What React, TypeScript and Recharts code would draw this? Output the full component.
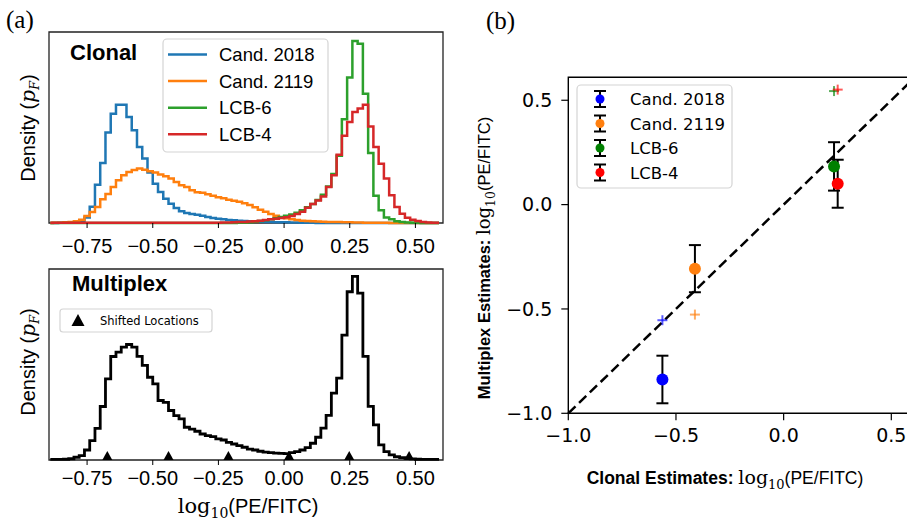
import React from 'react';
import {
  ComposedChart,
  ScatterChart,
  Line,
  Scatter,
  XAxis,
  YAxis,
  ReferenceArea,
  ReferenceLine,
  ErrorBar,
  Cell,
} from 'recharts';

// histogram bin centres (bin width 0.02)
const binCenters = [
  -0.89, -0.87, -0.85, -0.83, -0.81, -0.79, -0.77, -0.75, -0.73, -0.71,
  -0.69, -0.67, -0.65, -0.63, -0.61, -0.59, -0.57, -0.55, -0.53, -0.51,
  -0.49, -0.47, -0.45, -0.43, -0.41, -0.39, -0.37, -0.35, -0.33, -0.31,
  -0.29, -0.27, -0.25, -0.23, -0.21, -0.19, -0.17, -0.15, -0.13, -0.11,
  -0.09, -0.07, -0.05, -0.03, -0.01, 0.01, 0.03, 0.05, 0.07, 0.09,
  0.11, 0.13, 0.15, 0.17, 0.19, 0.21, 0.23, 0.25, 0.27, 0.29,
  0.31, 0.33, 0.35, 0.37, 0.39, 0.41, 0.43, 0.45, 0.47, 0.49,
  0.51, 0.53, 0.55, 0.57, 0.59,
];

const cand2018 = [
  0, 0, 0.1, 0.1, 0.3, 0.5, 1, 3, 9, 21,
  33, 49.7, 60, 65, 65, 58.3, 51, 41.8, 35.4, 27.7,
  21.6, 17, 13.4, 10.6, 8.2, 6.4, 5.5, 5, 4.5, 4,
  3.3, 2.8, 2.4, 2, 1.7, 1.5, 1.3, 1.1, 0.9, 0.8,
  0.7, 0.6, 0.5, 0.45, 0.4, 0.35, 0.3, 0.25, 0.2, 0.15,
  0.1, 0.05, 0, 0, 0, 0, 0, 0, 0, 0,
  0, 0, 0, 0, 0, 0, 0, 0, 0, 0,
  0, 0, 0, 0, 0,
];

const cand2119 = [
  0, 0.1, 0.2, 0.4, 0.6, 0.9, 1.8, 3.8, 6, 8.8,
  13, 16, 19.8, 23.5, 26.2, 28, 29.1, 29.9, 29.3, 28.4,
  27.7, 26.6, 25.7, 24.4, 22.5, 20.7, 19.8, 18, 16.9, 16.6,
  15.8, 15, 14.2, 13.6, 12.8, 12.3, 11.7, 10.8, 9.9, 8.6,
  7.3, 6.2, 4.9, 4, 3.1, 2.6, 2, 1.6, 1.3, 1.1,
  0.9, 0.8, 0.7, 0.6, 0.5, 0.5, 0.4, 0.4, 0.3, 0.3,
  0.2, 0.2, 0.2, 0.1, 0.1, 0, 0, 0, 0, 0,
  0, 0, 0, 0, 0,
];

const lcb6 = [
  0, 0, 0, 0, 0, 0, 0, 0, 0, 0,
  0, 0, 0, 0, 0, 0, 0, 0, 0, 0,
  0, 0, 0, 0, 0, 0, 0, 0, 0, 0,
  0, 0, 0, 0, 0, 0, 0.1, 0.2, 0.4, 0.7,
  1.1, 1.5, 2, 2.6, 3.3, 4, 4.7, 5.6, 7, 8.6,
  10.5, 12.6, 15.5, 20, 27, 37, 57, 80, 100, 98.5,
  71, 38.5, 15, 7, 3, 2, 1, 0.5, 0.3, 0.2,
  0.1, 0, 0, 0, 0,
];

const lcb4 = [
  0.1, 0.1, 0.1, 0.1, 0.1, 0.1, 0.1, 0.1, 0.1, 0.1,
  0.1, 0.1, 0.1, 0.1, 0.1, 0.1, 0.1, 0.1, 0.1, 0.1,
  0.1, 0.1, 0.1, 0.1, 0.1, 0.1, 0.15, 0.15, 0.15, 0.15,
  0.15, 0.15, 0.15, 0.3, 0.3, 0.4, 0.5, 0.6, 0.8, 1,
  1.3, 1.6, 2, 2.3, 2.7, 3.1, 3.8, 4.9, 6.2, 8.4,
  10.4, 12.4, 14.5, 19.8, 26.2, 37.5, 48, 55.5, 61, 63,
  65, 53, 41.8, 32.6, 24.4, 15.2, 8.8, 5.1, 2.9, 1.8,
  1.1, 0.6, 0.3, 0.2, 0.1,
];

const multiplex = [
  0.3, 0.3, 0.3, 0.4, 0.7, 1.5, 2.4, 5.5, 10.6, 17.4,
  29.4, 44.6, 56.9, 59.3, 62, 63.5, 62, 57, 52, 45.5,
  41.8, 32.7, 31.7, 27.2, 24.4, 22.6, 18, 17, 15.8, 14.3,
  13.4, 12.8, 11.6, 11, 9.7, 8.8, 7.9, 7, 6, 5.5,
  4.8, 4.3, 4.1, 3.8, 3.6, 3.5, 4, 4.6, 5.5, 6.8,
  9.2, 12.5, 17.5, 24.5, 36.8, 45, 68.7, 92.5, 101, 91.7,
  57, 29.5, 19.3, 8.3, 4.6, 2.8, 1.8, 1.3, 0.9, 0.6,
  0.4, 0.3, 0.3, 0.3, 0.3,
];

const shiftedLocations = [-0.673, -0.44, -0.212, 0.019, 0.248, 0.476];
const histTicks = [-0.75, -0.5, -0.25, 0, 0.25, 0.5];

const strains = ['Cand. 2018', 'Cand. 2119', 'LCB-6', 'LCB-4'];
const clonalEst = [-0.563, -0.412, 0.234, 0.251];
const multiplexEst = [-0.838, -0.307, 0.183, 0.1];
const multiplexErr = [0.114, 0.113, 0.116, 0.115];
const shiftedEst = [-0.554, -0.527, 0.544, 0.551];
const estTicks = [-1, -0.5, 0, 0.5];

const histColors = ['#1f77b4', '#ff7f0e', '#2ca02c', '#d62728'];
const estColors = ['#0000ff', '#ff7f0e', '#008000', '#ff0000'];

const histKeys = ['c2018', 'c2119', 'lcb6', 'lcb4'];
const histSeries = [cand2018, cand2119, lcb6, lcb4];

const clonalRows = binCenters.map((x, i) => {
  const row: Record<string, number> = { x };
  histKeys.forEach((k, j) => {
    row[k] = histSeries[j][i];
  });
  return row;
});
const multiplexRows = binCenters.map((x, i) => ({ x, m: multiplex[i] }));
const triangleRows = shiftedLocations.map((x) => ({ x, m: 0 }));

const estRows = strains.map((name, i) => ({
  name,
  x: clonalEst[i],
  y: multiplexEst[i],
  err: multiplexErr[i],
}));
const shiftedRows = strains.map((name, i) => ({ name, x: clonalEst[i], y: shiftedEst[i] }));

const SANS = 'Liberation Sans, Arial, Helvetica, sans-serif';
const DEJAVU = 'DejaVu Sans, sans-serif';
const MATH = 'DejaVu Serif, serif';
const SERIF = 'Liberation Serif, Times New Roman, serif';

const fmt = (d: number) => (v: number) => (v < 0 ? '\u2212' : '') + Math.abs(v).toFixed(d);

const HIST_X: [number, number] = [-0.895, 0.605];
const HIST_Y: [number, number] = [0, 105];
const EST_DOMAIN: [number, number] = [-1, 0.61];

const Triangle = (props: any) => {
  const { cx, cy } = props;
  return <polygon points={`${cx - 5},${cy} ${cx + 5},${cy} ${cx},${cy - 9}`} fill="#000" />;
};

const Dot = (props: any) => <circle cx={props.cx} cy={props.cy} r={6} fill={props.fill} />;

const Plus = (props: any) => {
  const { cx, cy, fill } = props;
  return (
    <g stroke={fill} strokeWidth={2} strokeOpacity={0.65}>
      <line x1={cx - 5} y1={cy} x2={cx + 5} y2={cy} />
      <line x1={cx} y1={cy - 5} x2={cx} y2={cy + 5} />
    </g>
  );
};

function ClonalPanel() {
  return (
    <ComposedChart width={460} height={260} data={clonalRows} margin={{ top: 32, right: 17, bottom: 7, left: 49 }}>
      <XAxis
        type="number"
        dataKey="x"
        domain={HIST_X}
        ticks={histTicks}
        interval={0}
        tickFormatter={fmt(2)}
        axisLine={false}
        tickSize={5}
        tickMargin={11}
        height={30}
        tickLine={{ stroke: '#000' }}
        tick={{ fill: '#000', fontSize: 20, fontFamily: SANS }}
      />
      <YAxis hide domain={HIST_Y} />
      {histKeys.map((k, j) => (
        <Line
          key={k}
          type="step"
          dataKey={k}
          name={strains[j]}
          stroke={histColors[j]}
          strokeWidth={2.5}
          dot={false}
          activeDot={false}
          isAnimationActive={false}
        />
      ))}
      <ReferenceArea x1={HIST_X[0]} x2={HIST_X[1]} y1={HIST_Y[0]} y2={HIST_Y[1]} fill="none" stroke="#222" strokeWidth={1.3} />
    </ComposedChart>
  );
}

function MultiplexPanel() {
  return (
    <ComposedChart width={460} height={260} data={multiplexRows} margin={{ top: 29, right: 17, bottom: 10, left: 49 }}>
      <XAxis
        type="number"
        dataKey="x"
        domain={HIST_X}
        ticks={histTicks}
        interval={0}
        tickFormatter={fmt(2)}
        axisLine={false}
        tickSize={5}
        tickMargin={6}
        height={30}
        tickLine={{ stroke: '#000' }}
        tick={{ fill: '#000', fontSize: 20, fontFamily: SANS }}
      />
      <YAxis hide domain={HIST_Y} />
      <Line type="step" dataKey="m" stroke="#000" strokeWidth={2.8} dot={false} activeDot={false} isAnimationActive={false} />
      <Scatter data={triangleRows} dataKey="m" shape={Triangle} isAnimationActive={false} />
      <ReferenceArea x1={HIST_X[0]} x2={HIST_X[1]} y1={HIST_Y[0]} y2={HIST_Y[1]} fill="none" stroke="#222" strokeWidth={1.3} />
    </ComposedChart>
  );
}

function EstimatePanel() {
  return (
    <ScatterChart width={470} height={526} margin={{ top: 77.3, right: 15, bottom: 82.7, left: 48.3 }}>
      <XAxis
        type="number"
        dataKey="x"
        domain={EST_DOMAIN}
        ticks={estTicks}
        interval={0}
        tickFormatter={fmt(1)}
        axisLine={false}
        tickSize={7}
        tickMargin={8}
        height={30}
        tickLine={{ stroke: '#000', strokeWidth: 1.2 }}
        tick={{ fill: '#000', fontSize: 19, fontFamily: DEJAVU }}
      />
      <YAxis
        type="number"
        dataKey="y"
        domain={EST_DOMAIN}
        ticks={estTicks}
        interval={0}
        tickFormatter={fmt(1)}
        axisLine={false}
        width={60}
        tickSize={7}
        tickMargin={9}
        tickLine={{ stroke: '#000', strokeWidth: 1.2 }}
        tick={{ fill: '#000', fontSize: 19, fontFamily: DEJAVU }}
      />
      <ReferenceArea x1={EST_DOMAIN[0]} x2={EST_DOMAIN[1]} y1={EST_DOMAIN[0]} y2={EST_DOMAIN[1]} fill="none" stroke="#000" strokeWidth={1.4} />
      <ReferenceLine
        segment={[
          { x: EST_DOMAIN[0], y: EST_DOMAIN[0] },
          { x: EST_DOMAIN[1], y: EST_DOMAIN[1] },
        ]}
        stroke="#000"
        strokeWidth={2.5}
        strokeDasharray="10 5"
      />
      <Scatter data={shiftedRows} shape={Plus} isAnimationActive={false}>
        {shiftedRows.map((r, i) => (
          <Cell key={r.name} fill={estColors[i]} />
        ))}
      </Scatter>
      <Scatter data={estRows} shape={Dot} isAnimationActive={false}>
        {estRows.map((r, i) => (
          <Cell key={r.name} fill={estColors[i]} />
        ))}
        <ErrorBar dataKey="err" direction="y" width={6} stroke="#000" strokeWidth={2} />
      </Scatter>
    </ScatterChart>
  );
}

function Overlay() {
  return (
    <svg width={907} height={526} style={{ position: 'absolute', left: 0, top: 0, pointerEvents: 'none' }}>
      <text x={6} y={28} fontFamily={SERIF} fontSize={25} fill="#000">(a)</text>
      <text x={486} y={29} fontFamily={SERIF} fontSize={25} fill="#000">(b)</text>

      <text x={70} y={60} fontFamily={SANS} fontWeight="bold" fontSize={22} fill="#000">Clonal</text>
      <text x={72} y={291} fontFamily={SANS} fontWeight="bold" fontSize={22} fill="#000">Multiplex</text>

      {/* clonal legend */}
      <rect x={163} y={39} width={165} height={113} rx={4} fill="#fff" stroke="#d4d4d4" strokeWidth={1.2} />
      {strains.map((s, i) => {
        const y = 54.5 + i * 26.6;
        return (
          <g key={s}>
            <line x1={168} x2={207} y1={y} y2={y} stroke={histColors[i]} strokeWidth={2.5} />
            <text x={219} y={y + 6.5} fontFamily={SANS} fontSize={18.5} fill="#000">{s}</text>
          </g>
        );
      })}

      {/* multiplex legend */}
      <rect x={60} y={309} width={152} height={23} rx={3} fill="#fff" stroke="#d4d4d4" strokeWidth={1.2} />
      <polygon points="71.5,326 84.5,326 78,314" fill="#000" />
      <text x={100} y={325} fontFamily={DEJAVU} fontSize={11.5} fill="#000">Shifted Locations</text>

      {/* density labels */}
      {[128, 362].map((cy) => (
        <text key={cy} transform={`translate(35,${cy}) rotate(-90)`} textAnchor="middle" fontFamily={SANS} fontSize={20} fill="#000">
          Density (<tspan fontFamily={MATH} fontStyle="italic">p</tspan>
          <tspan fontFamily={MATH} fontStyle="italic" fontSize={13} dy={4}>F</tspan>
          <tspan dy={-4}>)</tspan>
        </text>
      ))}

      <text x={248} y={513} textAnchor="middle" fill="#000">
        <tspan fontFamily={MATH} fontSize={21}>log</tspan>
        <tspan fontFamily={MATH} fontSize={14} dy={5}>10</tspan>
        <tspan fontFamily={SANS} fontSize={20} dy={-5}>(PE/FITC)</tspan>
      </text>

      {/* estimate legend */}
      <rect x={577} y={85} width={155} height={103} rx={4} fill="#fff" fillOpacity={0.85} stroke="#d4d4d4" strokeWidth={1.2} />
      {strains.map((s, i) => {
        const y = 99 + i * 24.5;
        return (
          <g key={s}>
            <line x1={600} x2={600} y1={y - 8} y2={y + 8} stroke="#000" strokeWidth={2} />
            <line x1={594} x2={606} y1={y - 8} y2={y - 8} stroke="#000" strokeWidth={2} />
            <line x1={594} x2={606} y1={y + 8} y2={y + 8} stroke="#000" strokeWidth={2} />
            <circle cx={600} cy={y} r={4.5} fill={estColors[i]} />
            <text x={630} y={y + 6} fontFamily={DEJAVU} fontSize={16.5} fill="#000">{s}</text>
          </g>
        );
      })}

      <text x={725} y={484} textAnchor="middle" fill="#000">
        <tspan fontFamily={SANS} fontWeight="bold" fontSize={17.5}>Clonal Estimates: </tspan>
        <tspan fontFamily={MATH} fontSize={19}>log</tspan>
        <tspan fontFamily={MATH} fontSize={13} dy={5}>10</tspan>
        <tspan fontFamily={SANS} fontSize={17.5} dy={-5}>(PE/FITC)</tspan>
      </text>
      <text transform="translate(490,258) rotate(-90)" textAnchor="middle" fill="#000">
        <tspan fontFamily={SANS} fontWeight="bold" fontSize={16.5}>Multiplex Estimates: </tspan>
        <tspan fontFamily={MATH} fontSize={18}>log</tspan>
        <tspan fontFamily={MATH} fontSize={12.5} dy={5}>10</tspan>
        <tspan fontFamily={SANS} fontSize={16.5} dy={-5}>(PE/FITC)</tspan>
      </text>
    </svg>
  );
}

export default function App() {
  return (
    <div style={{ position: 'fixed', left: 0, top: 0, width: 907, height: 526, overflow: 'hidden', background: '#fff' }}>
      <div style={{ position: 'absolute', left: 0, top: 0 }}>
        <ClonalPanel />
      </div>
      <div style={{ position: 'absolute', left: 0, top: 240 }}>
        <MultiplexPanel />
      </div>
      <div style={{ position: 'absolute', left: 460, top: 0 }}>
        <EstimatePanel />
      </div>
      <Overlay />
    </div>
  );
}
